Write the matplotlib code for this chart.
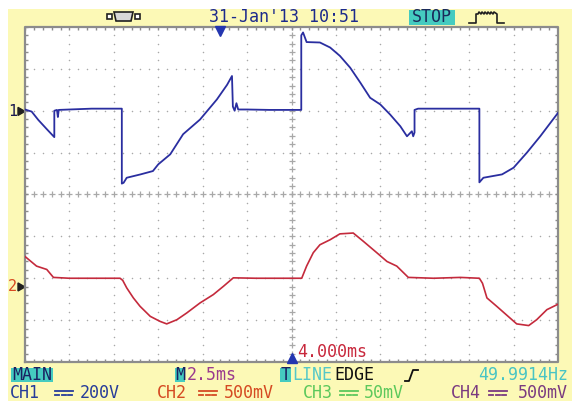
import matplotlib
matplotlib.use("Agg")
import matplotlib.pyplot as plt
from matplotlib.patches import Rectangle, Polygon
import numpy as np

W, H = 572, 401

# screen is 12 x 8 divisions, 2.5 ms/div
time_per_div = 2.5
trig_offset_ms = 4.0

# CH1 trace (x in div, y in div from screen centre)
ch1_x = [0, 0.15, 0.3, 0.5, 0.66, 0.66, 0.72, 0.74, 0.76, 1.0, 1.5, 2.0, 2.18,
         2.18, 2.22, 2.29, 2.6, 2.88, 3.0, 3.27, 3.56, 3.94, 4.32, 4.55, 4.66,
         4.68, 4.72, 4.76, 4.80, 5.0, 5.5, 6.0, 6.22,
         6.22, 6.26, 6.34, 6.64, 6.87, 7.09, 7.32, 7.55, 7.77, 8.0, 8.22, 8.45,
         8.6, 8.71, 8.74, 8.77, 8.77, 8.85, 9.5, 10.0, 10.23,
         10.23, 10.32, 10.74, 11.0, 11.3, 11.6, 12.0]
ch1_y = [2.03, 1.98, 1.78, 1.55, 1.37, 2.0, 2.02, 1.85, 2.02, 2.03, 2.05, 2.05, 2.05,
         0.26, 0.28, 0.40, 0.48, 0.56, 0.72, 0.96, 1.44, 1.79, 2.27, 2.62, 2.83,
         2.1, 2.0, 2.18, 2.03, 2.03, 2.02, 2.02, 2.02,
         3.80, 3.87, 3.64, 3.63, 3.51, 3.31, 3.03, 2.67, 2.31, 2.15, 1.91, 1.63,
         1.39, 1.51, 1.39, 1.48, 2.02, 2.05, 2.05, 2.05, 2.05,
         0.29, 0.40, 0.48, 0.64, 1.0, 1.39, 1.95]

# CH2 trace
ch2_x = [0, 0.26, 0.49, 0.64, 1.0, 1.5, 2.14, 2.2, 2.29, 2.44, 2.59, 2.82, 3.04,
         3.19, 3.42, 3.64, 3.94, 4.24, 4.47, 4.69, 5.2, 5.8, 6.23, 6.34, 6.49,
         6.64, 6.87, 7.09, 7.39, 7.62, 7.92, 8.15, 8.37, 8.63, 9.2, 9.8, 10.23,
         10.3, 10.40, 10.62, 10.92, 11.07, 11.34, 11.52, 11.75, 12.0]
ch2_y = [-1.48, -1.71, -1.79, -1.98, -2.0, -2.0, -2.0, -2.05, -2.23, -2.47, -2.67,
         -2.91, -3.03, -3.09, -2.99, -2.83, -2.59, -2.39, -2.19, -1.99, -2.0, -2.0,
         -2.0, -1.71, -1.39, -1.20, -1.08, -0.94, -0.92, -1.12, -1.39, -1.60, -1.71,
         -1.98, -2.0, -1.98, -2.0, -2.12, -2.47, -2.67, -2.95, -3.09, -3.13, -2.99,
         -2.75, -2.62]

ch1_marker = 2.0
ch2_marker = -2.2

date_text = "31-Jan'13 10:51"
freq_text = "49.9914Hz"
channels = ["CH1", "CH2", "CH3", "CH4"]
scales = ["200V", "500mV", "50mV", "500mV"]

yellow = '#FCF9B6'
cyan = '#45CBC0'
blue = '#2A2EA0'
red = '#C42A3C'
grid_c = '#A8A8A8'
mono = 'DejaVu Sans Mono'
fs = 12

fig = plt.figure(figsize=(W / 100, H / 100), dpi=100, facecolor='white')

# background layer in pixel coordinates
bg = fig.add_axes([0, 0, 1, 1])
bg.set_xlim(0, W)
bg.set_ylim(H, 0)
bg.axis('off')
bg.add_patch(Rectangle((8, 9), W - 8, H - 9, color=yellow, lw=0))


def box(x0, y0, x1, y1, c=cyan):
    bg.add_patch(Rectangle((x0, y0), x1 - x0, y1 - y0, color=c, lw=0))


def txt(x, y, s, c, ha='left', size=fs):
    fig.text(x / W, 1 - y / H, s, color=c, ha=ha, va='center',
             family=mono, fontsize=size)


def dc_sym(x0, y, c):
    bg.plot([x0, x0 + 18], [y - 1.8, y - 1.8], color=c, lw=1.3)
    for k in range(3):
        bg.plot([x0 + k * 6.5, x0 + k * 6.5 + 4], [y + 1.6, y + 1.6], color=c, lw=1.3)


# scope screen
ax = fig.add_axes([25 / W, (H - 362) / H, 533 / W, 335 / H])
ax.set_xlim(0, 12)
ax.set_ylim(-4, 4)
ax.axis('off')
ax.add_patch(Rectangle((0, -4), 12, 8, color='white', lw=0, zorder=0))

fine_x = np.arange(0, 12.01, 0.2)
fine_y = np.arange(-4, 4.01, 0.2)
for gx in range(1, 12):
    if gx != 6:
        ax.plot(np.full_like(fine_y, gx), fine_y, ls='none', marker='o', ms=1.1,
                color=grid_c, mec='none')
for gy in range(-3, 4):
    if gy != 0:
        ax.plot(fine_x, np.full_like(fine_x, gy), ls='none', marker='o', ms=1.1,
                color=grid_c, mec='none')
ax.plot(np.full_like(fine_y, 6), fine_y, ls='none', marker='+', ms=4, mew=0.9,
        color=grid_c)
ax.plot(fine_x, np.zeros_like(fine_x), ls='none', marker='+', ms=4, mew=0.9,
        color=grid_c)

# border with fine ticks
ax.plot([0, 12, 12, 0, 0], [-4, -4, 4, 4, -4], color='#8C8C8C', lw=1.6,
        clip_on=False)
ax.vlines(fine_x, 4 - 0.08, 4, color='#8C8C8C', lw=1)
ax.vlines(fine_x, -4, -4 + 0.08, color='#8C8C8C', lw=1)
ax.hlines(fine_y, 0, 0.07, color='#8C8C8C', lw=1)
ax.hlines(fine_y, 12 - 0.07, 12, color='#8C8C8C', lw=1)

ax.plot(ch1_x, ch1_y, color=blue, lw=1.3)
ax.plot(ch2_x, ch2_y, color=red, lw=1.2)

trig_x = 6 - trig_offset_ms / time_per_div
ax.plot([trig_x], [3.9], marker='v', ms=7, color='#2436B0', clip_on=False)
ax.plot([6], [-3.9], marker='^', ms=7, color='#2436B0', clip_on=False)

# channel markers on the left
def ypix(v):
    return 195 - v * 41.8


txt(8, ypix(ch1_marker), "1", '#1A1A50', size=11)
bg.add_patch(Polygon([(18, ypix(ch1_marker) - 4), (25, ypix(ch1_marker)),
                      (18, ypix(ch1_marker) + 4)], color='#202020'))
txt(8, ypix(ch2_marker), "2", '#D84A20', size=11)
bg.add_patch(Polygon([(18, ypix(ch2_marker) - 4), (25, ypix(ch2_marker)),
                      (18, ypix(ch2_marker) + 4)], color='#202020'))

# top bar
bg.add_patch(Rectangle((107, 14), 5, 5, fc='white', ec='#202020', lw=1.2))
bg.add_patch(Polygon([(114, 12), (133, 12), (131, 21), (116, 21)], fc='#D8D8D8',
                     ec='#202020', lw=1.2))
bg.add_patch(Rectangle((135, 14), 5, 5, fc='white', ec='#202020', lw=1.2))
txt(209, 17.5, date_text, '#1C2A8C')
box(409, 10, 455, 25)
txt(432, 17.5, "STOP", '#1A2A5A', ha='center')
bg.plot([469, 476, 476, 478, 479, 481, 482, 484, 485, 487, 488, 490, 491, 493, 494,
         497, 497, 504],
        [23, 23, 14, 14, 12, 14, 12, 14, 12, 14, 12, 14, 12, 14, 12, 14, 23, 23],
        color='#202020', lw=1.2)

# bottom status rows
r1, r2 = 375, 393
box(11, 368, 53, 382)
txt(12, r1, "MAIN", '#1A2060')
box(175, 368, 185, 382)
txt(175, r1, "M", '#1A2060')
txt(187, r1, "2.5ms", '#9A3A8E')
box(280, 368, 291, 382)
txt(280.5, r1, "T", '#1A2060')
txt(292, r1, "LINE", '#55C8C8')
txt(334, r1, "EDGE", '#101010')
bg.plot([405, 409, 413, 418], [381, 381, 370, 370], color='#101010', lw=1.3)
txt(568, r1, freq_text, '#48C4C4', ha='right')

txt(297, 352, "4.000ms", '#C8283C')

ch_cols = ['#263C9A', '#D54A22', '#5CC85C', '#7A3A80']
ch_x = [10, 157, 303, 451]
sym_x = [55, 199, 340, 489]
val_x = [80, 224, 364, 568]
for i in range(4):
    txt(ch_x[i], r2, channels[i], ch_cols[i])
    dc_sym(sym_x[i], r2, ch_cols[i])
    if i == 3:
        txt(val_x[i], r2, scales[i], ch_cols[i], ha='right')
    else:
        txt(val_x[i], r2, scales[i], ch_cols[i])

fig.savefig("out.png", dpi=100, facecolor='white')
